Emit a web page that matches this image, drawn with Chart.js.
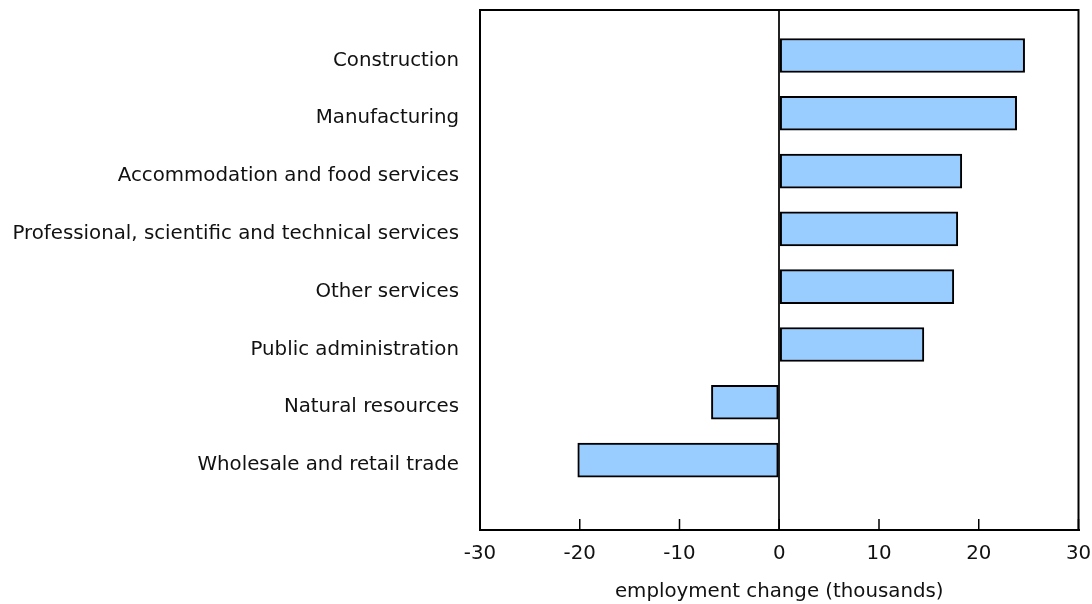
<!DOCTYPE html>
<html>
<head>
<meta charset="utf-8">
<script src="https://cdn.jsdelivr.net/npm/chart.js@4.4.1/dist/chart.umd.min.js"></script>
<style>
    html, body { margin: 0; padding: 0; background: #fff; }
    #wrap { width: 1092px; height: 604px; }
</style>
</head>
<body>
<div id="wrap"><canvas id="chart"></canvas></div>
<script>
// Data
const categories = [
    'Construction',
    'Manufacturing',
    'Accommodation and food services',
    'Professional, scientific and technical services',
    'Other services',
    'Public administration',
    'Natural resources',
    'Wholesale and retail trade'
];
const changes = [24.6, 23.8, 18.3, 17.9, 17.5, 14.5, -6.8, -20.2];
const xTicks = [-30, -20, -10, 0, 10, 20, 30];
const axisTitle = 'employment change (thousands)';

const font = { family: '"DejaVu Sans", Verdana, sans-serif', size: 19.8 };

// Frame (top/right sides) and the inward tick marks on the x axis
const framePlugin = {
    id: 'frame',
    afterDraw(chart) {
        const { ctx, chartArea: a, scales } = chart;
        ctx.save();
        ctx.strokeStyle = '#000';
        ctx.lineWidth = 2;
        ctx.strokeRect(a.left, a.top, a.right - a.left, a.bottom - a.top);
        ctx.lineWidth = 1.5;
        ctx.beginPath();
        xTicks.forEach(v => {
            const px = scales.x.getPixelForValue(v);
            ctx.moveTo(px, a.bottom);
            ctx.lineTo(px, a.bottom - 11);
        });
        ctx.stroke();
        ctx.restore();
    }
};

const ctx = document.getElementById('chart').getContext('2d');
new Chart(ctx, {
    type: 'bar',
    data: {
        datasets: [{
            data: changes.map((v, i) => ({ x: v, y: i })),
            backgroundColor: '#99ccff',
            borderColor: '#000',
            borderWidth: 2,
            borderSkipped: false,
            barThickness: 34
        }]
    },
    options: {
        indexAxis: 'y',
        responsive: true,
        maintainAspectRatio: false,
        animation: false,
        layout: { padding: { top: 10, right: 13.5, left: 0, bottom: 0 } },
        plugins: {
            legend: { display: false },
            tooltip: { enabled: false }
        },
        scales: {
            x: {
                type: 'linear',
                min: -30,
                max: 30,
                afterBuildTicks: (scale) => { scale.ticks = xTicks.map(v => ({ value: v })); },
                afterFit: (scale) => {
                    scale.height = 74;
                    scale.paddingLeft = 0;
                    scale.paddingRight = 0;
                },
                ticks: { font, color: '#111', padding: 12 },
                grid: {
                    drawTicks: false,
                    lineWidth: 2,
                    color: (c) => (c.tick && c.tick.value === 0 ? '#222' : 'rgba(0,0,0,0)')
                },
                border: { color: '#000', width: 2 },
                title: {
                    display: true,
                    text: axisTitle,
                    font,
                    color: '#111',
                    padding: { top: 19, bottom: 0 }
                }
            },
            y: {
                type: 'linear',
                reverse: true,
                offset: false,
                min: -0.787,
                max: 8.21,
                afterBuildTicks: (scale) => { scale.ticks = categories.map((_, i) => ({ value: i })); },
                afterFit: (scale) => {
                    scale.width = 480;
                    scale.paddingTop = 0;
                    scale.paddingBottom = 0;
                },
                ticks: {
                    font,
                    color: '#111',
                    padding: 21,
                    labelOffset: 5,
                    autoSkip: false,
                    callback: (v) => categories[v] ?? ''
                },
                grid: { display: false, drawTicks: false, offset: false },
                border: { color: '#000', width: 2 }
            }
        }
    },
    plugins: [framePlugin]
});
</script>
</body>
</html>
